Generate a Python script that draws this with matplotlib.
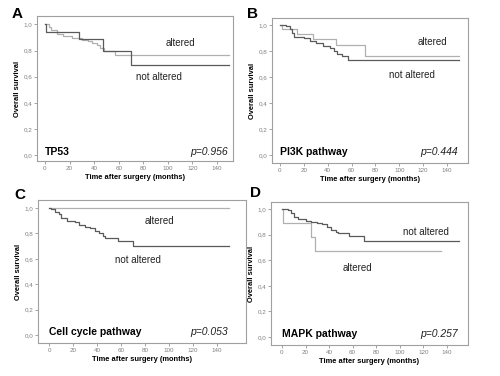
import numpy as np
import matplotlib.pyplot as plt

plt.rcParams['font.family'] = ['Liberation Sans', 'DejaVu Sans']

# ---------- Data ----------

# A: TP53
a_alt_t = [0, 3, 5, 10, 15, 22, 30, 35, 38, 42, 45, 48, 57, 150]
a_alt_s = [1.0, 0.98, 0.96, 0.93, 0.91, 0.90, 0.88, 0.87, 0.86, 0.84, 0.82, 0.80, 0.77, 0.77]
a_not_t = [0, 1, 28, 47, 70, 150]
a_not_s = [1.0, 0.944, 0.89, 0.80, 0.69, 0.69]

# B: PI3K pathway
b_alt_t = [0, 2, 14, 28, 47, 71, 150]
b_alt_s = [1.0, 0.97, 0.93, 0.89, 0.85, 0.765, 0.765]
b_not_t = [0, 5, 8, 10, 12, 20, 25, 30, 36, 42, 45, 48, 52, 57, 150]
b_not_s = [1.0, 0.99, 0.97, 0.94, 0.91, 0.90, 0.88, 0.86, 0.84, 0.82, 0.80, 0.78, 0.76, 0.735, 0.735]

# C: Cell cycle pathway
c_alt_t = [0, 150]
c_alt_s = [1.0, 1.0]
c_not_t = [0, 2, 5, 8, 10, 15, 22, 25, 30, 34, 38, 42, 45, 47, 57, 70, 150]
c_not_s = [1.0, 0.99, 0.97, 0.95, 0.92, 0.90, 0.89, 0.87, 0.85, 0.84, 0.82, 0.80, 0.78, 0.76, 0.74, 0.70, 0.70]

# D: MAPK pathway
d_alt_t = [0, 1, 25, 28, 135]
d_alt_s = [1.0, 0.89, 0.78, 0.67, 0.67]
d_not_t = [0, 5, 8, 10, 14, 20, 25, 30, 34, 38, 42, 46, 48, 57, 70, 150]
d_not_s = [1.0, 0.99, 0.97, 0.94, 0.92, 0.91, 0.90, 0.89, 0.88, 0.86, 0.84, 0.82, 0.81, 0.79, 0.75, 0.75]

letters = ['A', 'B', 'C', 'D']
names = ['TP53', 'PI3K pathway', 'Cell cycle pathway', 'MAPK pathway']
pvals = ['p=0.956', 'p=0.444', 'p=0.053', 'p=0.257']

alt_t = [a_alt_t, b_alt_t, c_alt_t, d_alt_t]
alt_s = [a_alt_s, b_alt_s, c_alt_s, d_alt_s]
not_t = [a_not_t, b_not_t, c_not_t, d_not_t]
not_s = [a_not_s, b_not_s, c_not_s, d_not_s]

# label positions (months, survival)
alt_xy = [(110, 0.86), (128, 0.87), (92, 0.90), (64, 0.54)]
not_xy = [(93, 0.60), (111, 0.615), (74, 0.59), (122, 0.82)]

# axes boxes in pixels (left, top, right, bottom)
boxes = [(37, 16, 233, 161), (272, 18, 468, 163), (38, 200, 246, 343), (271, 202, 468, 345)]
xlims = [(-6.5, 153), (-6.7, 157.6), (-9.2, 164), (-9.3, 158)]
ylims = [(-0.046, 1.065), (-0.06, 1.054), (-0.063, 1.063), (-0.062, 1.055)]
letter_xy = [(12, 14), (247, 14), (14, 195), (250, 193)]

W, H = 500, 376
fig = plt.figure(figsize=(5, 3.76), dpi=100)

for i in range(4):
    l, t, r, b = boxes[i]
    ax = fig.add_axes([l / W, 1 - b / H, (r - l) / W, (b - t) / H])
    ax.step(alt_t[i], alt_s[i], where='post', color='#b0b0b0', lw=0.9)
    ax.step(not_t[i], not_s[i], where='post', color='#5a5a5a', lw=0.9)
    ax.set_xlim(xlims[i])
    ax.set_ylim(ylims[i])
    ax.set_xticks(np.arange(0, 141, 20))
    ax.set_yticks([0, 0.2, 0.4, 0.6, 0.8, 1.0])
    ax.set_yticklabels(['0,0', '0,2', '0,4', '0,6', '0,8', '1,0'])
    ax.tick_params(labelsize=4.5, colors='#808080', length=2, width=0.5, pad=1.5)
    for sp in ax.spines.values():
        sp.set_color('#a0a0a0')
        sp.set_linewidth(0.8)
    ax.set_xlabel('Time after surgery (months)', fontsize=5.4, fontweight='bold', labelpad=2)
    ax.set_ylabel('Overall survival', fontsize=5.4, fontweight='bold', labelpad=2)

    ax.text(alt_xy[i][0], alt_xy[i][1], 'altered', fontsize=7, ha='center', va='center', color='#222222')
    ax.text(not_xy[i][0], not_xy[i][1], 'not altered', fontsize=7, ha='center', va='center', color='#222222')
    ax.text(0, 0.025, names[i], fontsize=7.5, fontweight='bold', ha='left', va='center')
    ax.text(149, 0.025, pvals[i], fontsize=7.5, style='italic', ha='right', va='center', color='#222222')

    fig.text(letter_xy[i][0] / W, 1 - letter_xy[i][1] / H, letters[i], fontsize=11,
             fontweight='bold', ha='left', va='center')

plt.savefig('out.png', dpi=100)
